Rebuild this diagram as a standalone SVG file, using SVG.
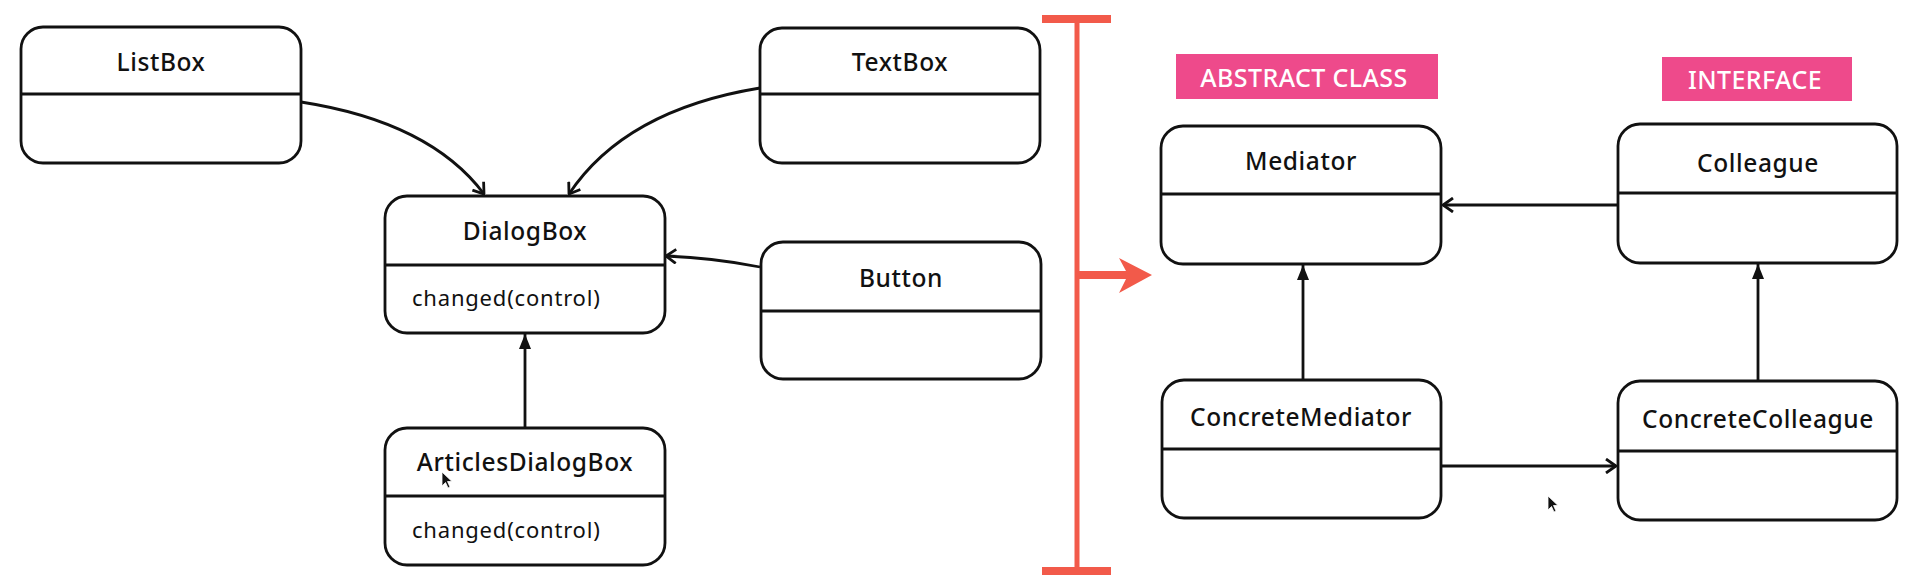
<svg xmlns="http://www.w3.org/2000/svg" width="1919" height="588" viewBox="0 0 1919 588">
<style>
.box{fill:#fff;stroke:#111;stroke-width:2.8}
.div{stroke:#111;stroke-width:2.8}
.t{font-family:"Noto Sans","Liberation Sans",sans-serif;font-size:24.5px;font-weight:500;fill:#111;text-anchor:middle;dominant-baseline:central;letter-spacing:0.6px}
.m{font-family:"Noto Sans","Liberation Sans",sans-serif;font-size:22px;fill:#111;dominant-baseline:central;letter-spacing:0.8px}
.c{fill:none;stroke:#111;stroke-width:2.8}
.lbl{fill:#EE4A8B}
.lt{font-family:"Noto Sans","Liberation Sans",sans-serif;font-size:25px;font-weight:500;fill:#fff;text-anchor:middle;dominant-baseline:central;letter-spacing:0.4px}
.red{fill:#F25A4A}
</style>
<defs>
<marker id="open" viewBox="0 0 12 16" refX="11" refY="8" markerWidth="12" markerHeight="16" orient="auto" markerUnits="userSpaceOnUse">
<path d="M1,1 L11,8 L1,15" fill="none" stroke="#111" stroke-width="2.8"/>
</marker>
<marker id="fill" viewBox="0 0 15 12" refX="15" refY="6" markerWidth="15" markerHeight="12" orient="auto" markerUnits="userSpaceOnUse">
<path d="M0,0 L15,6 L0,12 z" fill="#111"/>
</marker>
</defs>
<rect width="1919" height="588" fill="#fff"/>

<g id="connectors">
<path class="c" d="M301,102 Q430,122 484,194" marker-end="url(#open)"/>
<path class="c" d="M760,88 Q625,110 569,194" marker-end="url(#open)"/>
<path class="c" d="M760,267 Q715,258 666,256" marker-end="url(#open)"/>
<path class="c" d="M525,428 L525,334" marker-end="url(#fill)"/>
<path class="c" d="M1618,205 L1443,205" marker-end="url(#open)"/>
<path class="c" d="M1303,380 L1303,265" marker-end="url(#fill)"/>
<path class="c" d="M1758,381 L1758,264" marker-end="url(#fill)"/>
<path class="c" d="M1442,466 L1616,466" marker-end="url(#open)"/>
</g>

<g id="ListBox">
<rect class="box" x="21" y="27" width="280" height="136" rx="22"/>
<line class="div" x1="21" y1="94" x2="301" y2="94"/>
<text class="t" x="161" y="61">ListBox</text>
</g>
<g id="TextBox">
<rect class="box" x="760" y="28" width="280" height="135" rx="22"/>
<line class="div" x1="760" y1="94" x2="1040" y2="94"/>
<text class="t" x="900" y="61">TextBox</text>
</g>
<g id="DialogBox">
<rect class="box" x="385" y="196" width="280" height="137" rx="22"/>
<line class="div" x1="385" y1="265" x2="665" y2="265"/>
<text class="t" x="525" y="230">DialogBox</text>
<text class="m" x="412" y="297">changed(control)</text>
</g>
<g id="Button">
<rect class="box" x="761" y="242" width="280" height="137" rx="22"/>
<line class="div" x1="761" y1="311" x2="1041" y2="311"/>
<text class="t" x="901" y="277">Button</text>
</g>
<g id="ArticlesDialogBox">
<rect class="box" x="385" y="428" width="280" height="137" rx="22"/>
<line class="div" x1="385" y1="496" x2="665" y2="496"/>
<text class="t" x="525" y="461">ArticlesDialogBox</text>
<text class="m" x="412" y="529">changed(control)</text>
</g>

<g id="divider">
<rect class="red" x="1074.5" y="19" width="5" height="552"/>
<rect class="red" x="1042" y="15" width="69" height="8"/>
<rect class="red" x="1042" y="567" width="69" height="8"/>
<polygon class="red" points="1077,271 1126,271 1119,258 1152,275 1119,293 1126,279 1077,279"/>
</g>

<g id="label-abstract">
<rect class="lbl" x="1176" y="54" width="262" height="45"/>
<text class="lt" x="1304" y="77">ABSTRACT CLASS</text>
</g>
<g id="label-interface">
<rect class="lbl" x="1662" y="57" width="190" height="44"/>
<text class="lt" x="1755" y="79">INTERFACE</text>
</g>

<g id="Mediator">
<rect class="box" x="1161" y="126" width="280" height="138" rx="22"/>
<line class="div" x1="1161" y1="194" x2="1441" y2="194"/>
<text class="t" x="1301" y="160">Mediator</text>
</g>
<g id="Colleague">
<rect class="box" x="1618" y="124" width="279" height="139" rx="22"/>
<line class="div" x1="1618" y1="193" x2="1897" y2="193"/>
<text class="t" x="1758" y="162">Colleague</text>
</g>
<g id="ConcreteMediator">
<rect class="box" x="1162" y="380" width="279" height="138" rx="22"/>
<line class="div" x1="1162" y1="449" x2="1441" y2="449"/>
<text class="t" x="1301" y="416">ConcreteMediator</text>
</g>
<g id="ConcreteColleague">
<rect class="box" x="1618" y="381" width="279" height="139" rx="22"/>
<line class="div" x1="1618" y1="451" x2="1897" y2="451"/>
<text class="t" x="1758" y="418">ConcreteColleague</text>
</g>

<g id="cursors" fill="#111" stroke="#fff" stroke-width="0.8">
<path d="M442,472 L442,486 L445.5,482.5 L448,488 L450,487 L447.5,481.5 L452,481.5 z"/>
<path d="M1548,496 L1548,510 L1551.5,506.5 L1554,512 L1556,511 L1553.5,505.5 L1558,505.5 z"/>
</g>
</svg>
